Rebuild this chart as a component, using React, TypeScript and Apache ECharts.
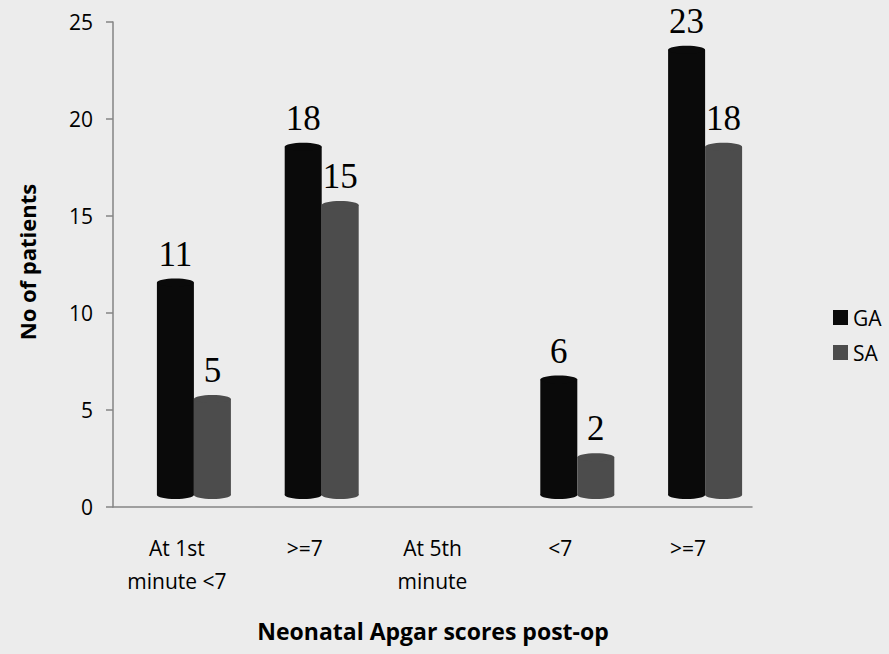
import React, { useEffect, useRef } from "react";
import * as echarts from "echarts";

const categories = ["At 1st\nminute <7", ">=7", "At 5th\nminute", "<7", ">=7"];
const gaValues: (number | null)[] = [11, 18, null, 6, 23];
const saValues: (number | null)[] = [5, 15, null, 2, 18];
const yTicks = { min: 0, max: 25, interval: 5 };
const seriesNames = ["GA", "SA"];
const seriesColors = ["#0a0a0a", "#4c4c4c"];

const toData = (vals: (number | null)[]) =>
  vals
    .map((v, i) => (v === null ? null : [i, v]))
    .filter((d) => d !== null) as number[][];

export default function App() {
  const ref = useRef<HTMLDivElement>(null);
  useEffect(() => {
    if (!ref.current) return;
    const chart = echarts.init(ref.current, null, { renderer: "svg" });
    const BW = 37;
    const makeRender = (si: number) => (params: any, api: any) => {
      const ci = api.value(0);
      const v = api.value(1);
      const top = api.coord([ci, v]);
      const base = api.coord([ci, 0]);
      const left = top[0] - 20 + si * BW;
      const ry = 4;
      const capY = top[1] - 11;
      const botY = base[1] - 12;
      const color = seriesColors[si];
      return {
        type: "group",
        children: [
          {
            type: "rect",
            shape: { x: left, y: capY, width: BW, height: botY - capY },
            style: { fill: color },
          },
          {
            type: "ellipse",
            shape: { cx: left + BW / 2, cy: botY, rx: BW / 2, ry },
            style: { fill: color },
          },
          {
            type: "ellipse",
            shape: { cx: left + BW / 2, cy: capY, rx: BW / 2, ry },
            style: { fill: color },
          },
          {
            type: "text",
            style: {
              text: String(v),
              x: left + BW / 2,
              y: capY - ry - 7,
              align: "center",
              verticalAlign: "bottom",
              fontFamily: "Liberation Serif",
              fontSize: 35,
              fill: "#000",
            },
          },
        ],
      };
    };
    chart.setOption({
      animation: false,
      backgroundColor: "#ececec",
      grid: { left: 113, right: 137, top: 22, bottom: 147 },
      legend: {
        orient: "vertical",
        left: 833,
        top: 307,
        padding: 0,
        itemWidth: 15,
        itemHeight: 15,
        itemGap: 14,
        icon: "rect",
        textStyle: { fontFamily: "Open Sans", fontSize: 21, color: "#000" },
        data: seriesNames,
      },
      xAxis: {
        type: "category",
        data: categories,
        axisLine: { lineStyle: { color: "#858585", width: 1.5 } },
        axisTick: { length: 7, lineStyle: { color: "#858585", width: 1.5 } },
        axisLabel: {
          fontFamily: "Open Sans",
          fontSize: 21,
          color: "#000",
          lineHeight: 33,
          margin: 24,
          interval: 0,
        },
      },
      yAxis: {
        type: "value",
        min: yTicks.min,
        max: yTicks.max,
        interval: yTicks.interval,
        splitLine: { show: false },
        axisLine: { show: true, lineStyle: { color: "#858585", width: 1.5 } },
        axisTick: { show: true, length: 7, lineStyle: { color: "#858585", width: 1.5 } },
        axisLabel: { fontFamily: "Open Sans", fontSize: 21, color: "#000", margin: 20 },
      },
      graphic: [
        {
          type: "text",
          x: 27,
          y: 262,
          rotation: Math.PI / 2,
          style: {
            text: "No of patients",
            fontFamily: "Open Sans",
            fontWeight: "bold",
            fontSize: 22,
            fill: "#000",
            align: "center",
            verticalAlign: "middle",
          },
        },
        {
          type: "text",
          x: 433,
          y: 631,
          style: {
            text: "Neonatal Apgar scores post-op",
            fontFamily: "Open Sans",
            fontWeight: "bold",
            fontSize: 23,
            fill: "#000",
            align: "center",
            verticalAlign: "middle",
          },
        },
      ],
      series: [0, 1].map((si) => ({
        type: "custom",
        name: seriesNames[si],
        itemStyle: { color: seriesColors[si] },
        data: toData(si === 0 ? gaValues : saValues),
        encode: { x: 0, y: 1 },
        renderItem: makeRender(si),
      })),
    });
    return () => chart.dispose();
  }, []);
  return <div ref={ref} style={{ width: 889, height: 654, position: "absolute", left: 0, top: 0 }} />;
}
